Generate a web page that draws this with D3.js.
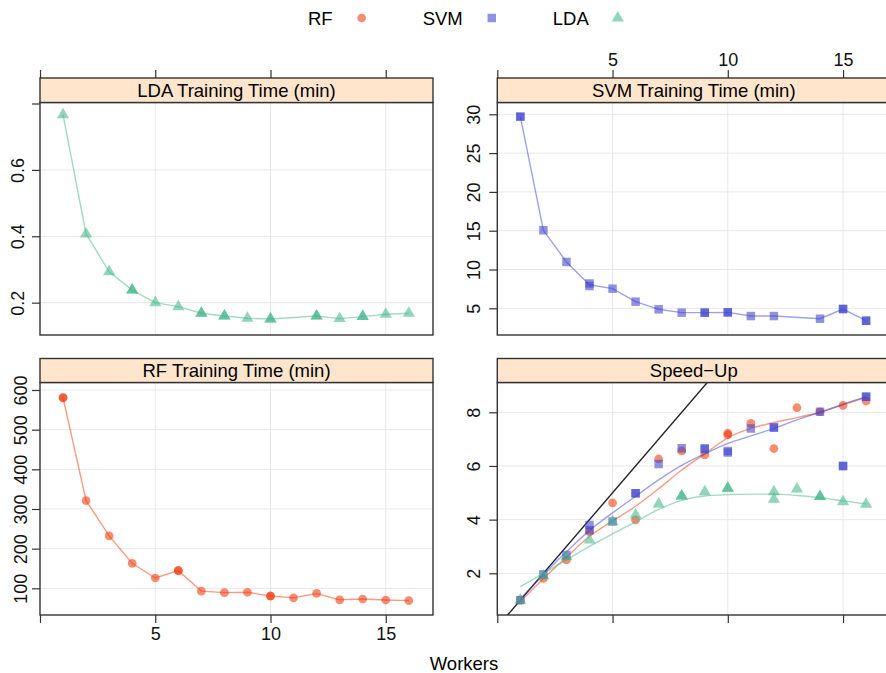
<!DOCTYPE html>
<html>
<head>
<meta charset="utf-8">
<script src="https://cdn.jsdelivr.net/npm/d3@7"></script>
<style>
  body { margin: 0; background: #fff; }
  svg { display: block; font-family: "Liberation Sans", Arial, sans-serif; }
</style>
</head>
<body>
<svg id="chart" width="886" height="673"></svg>
<script>
// ---- data (replicate runs repeat the worker count) ----
var seriesKeys = ["RF", "SVM", "LDA"];
var workerTicks = [0, 5, 10, 15];

var rfWorkers = [1, 1, 2, 3, 4, 5, 6, 6, 7, 8, 9, 10, 10, 11, 12, 13, 14, 15, 16];
var rfTime    = [580, 581, 321, 232, 163, 126, 144, 145, 93, 89, 90, 80, 81, 76, 87, 71, 73, 70.5, 69];

var svmWorkers = [1, 1, 2, 3, 4, 4, 5, 6, 7, 8, 9, 9, 10, 10, 11, 12, 14, 15, 15, 16, 16];
var svmTime    = [29.7, 29.7, 15.05, 10.97, 7.87, 8.2, 7.53, 5.85, 4.87, 4.44, 4.44, 4.44, 4.48, 4.48, 4.0, 4.0, 3.66, 4.91, 4.91, 3.4, 3.4];

var ldaWorkers = [1, 2, 3, 4, 4, 5, 6, 7, 7, 8, 8, 9, 10, 10, 12, 12, 13, 14, 14, 15, 16];
var ldaTime    = [0.766, 0.407, 0.293, 0.238, 0.238, 0.200, 0.188, 0.168, 0.168, 0.160, 0.160, 0.153, 0.151, 0.151, 0.160, 0.160, 0.152, 0.158, 0.158, 0.165, 0.168];

var rfSpeedWorkers = [1, 2, 3, 4, 5, 6, 7, 8, 9, 10, 10, 11, 12, 13, 14, 15, 16];
var rfSpeed        = [1.0, 1.81, 2.50, 3.55, 4.62, 3.99, 6.26, 6.56, 6.41, 7.22, 7.16, 7.59, 6.65, 8.17, 8.02, 8.26, 8.42];

var svmSpeedWorkers = [1, 2, 3, 4, 4, 5, 6, 6, 7, 8, 9, 9, 10, 10, 11, 12, 12, 14, 15, 15, 16, 16];
var svmSpeed        = [1.0, 1.96, 2.68, 3.80, 3.61, 3.93, 4.98, 4.98, 6.07, 6.66, 6.66, 6.62, 6.56, 6.50, 7.40, 7.43, 7.43, 8.02, 6.0, 6.0, 8.58, 8.58];

var ldaSpeedWorkers = [1, 2, 3, 4, 5, 6, 7, 8, 8, 9, 10, 10, 12, 12, 13, 14, 14, 15, 16];
var ldaSpeed        = [1.0, 1.9, 2.62, 3.24, 3.93, 4.17, 4.58, 4.88, 4.88, 5.04, 5.17, 5.17, 4.76, 5.04, 5.14, 4.86, 4.86, 4.67, 4.57];

// smoothed speed-up curves, read at workers 1..16
var fitWorkers = [1, 2, 3, 4, 5, 6, 7, 8, 9, 10, 11, 12, 13, 14, 15, 16];
var rfFit  = [0.95, 1.8, 2.6, 3.38, 3.95, 4.5, 5.15, 5.85, 6.45, 7.05, 7.4, 7.62, 7.8, 8.0, 8.28, 8.55];
var svmFit = [1.05, 1.95, 2.8, 3.6, 4.25, 4.87, 5.48, 6.02, 6.45, 6.84, 7.12, 7.4, 7.72, 8.0, 8.3, 8.58];
var ldaFit = [1.5, 2.0, 2.5, 3.0, 3.47, 3.92, 4.38, 4.72, 4.88, 4.93, 4.95, 4.95, 4.9, 4.82, 4.7, 4.58];

// ---- look ----
var colors = {RF: "#f03b0e", SVM: "#3f44cb", LDA: "#44b789"};
var symbols = {RF: d3.symbolCircle, SVM: d3.symbolSquare, LDA: d3.symbolTriangle};
var symbolSize = {RF: 60, SVM: 72, LDA: 64};
var alpha = 0.58, lineAlpha = 0.5;
var fontSize = 18;

var cols = [40, 497.3], panelWidth = 393;
var rows = [
  {stripTop: 78, top: 102.5, bottom: 335},
  {stripTop: 358.5, top: 382.5, bottom: 615}
];

var panels = [
  {title: "LDA Training Time (min)", col: 0, row: 0, yDomain: [0.1026, 0.803],
   yTicks: [0.2, 0.4, 0.6, 0.8], yLabels: [0.2, 0.4, 0.6], labelGap: 16,
   xAxis: "top", xLabels: false, kind: "time",
   series: [{key: "LDA", x: ldaWorkers, y: ldaTime}]},
  {title: "SVM Training Time (min)", col: 1, row: 0, yDomain: [1.56, 31.52],
   yTicks: [5, 10, 15, 20, 25, 30], yLabels: [5, 10, 15, 20, 25, 30], labelGap: 17,
   xAxis: "top", xLabels: true, kind: "time",
   series: [{key: "SVM", x: svmWorkers, y: svmTime}]},
  {title: "RF Training Time (min)", col: 0, row: 1, yDomain: [32.7, 618.9],
   yTicks: [100, 200, 300, 400, 500, 600], yLabels: [100, 200, 300, 400, 500, 600], labelGap: 13,
   xAxis: "bottom", xLabels: true, kind: "time",
   series: [{key: "RF", x: rfWorkers, y: rfTime}]},
  {title: "Speed\u2212Up", col: 1, row: 1, yDomain: [0.446, 9.11],
   yTicks: [2, 4, 6, 8], yLabels: [2, 4, 6, 8], labelGap: 17,
   xAxis: "bottom", xLabels: false, kind: "speed",
   series: [
     {key: "RF", x: rfSpeedWorkers, y: rfSpeed, fit: rfFit},
     {key: "SVM", x: svmSpeedWorkers, y: svmSpeed, fit: svmFit},
     {key: "LDA", x: ldaSpeedWorkers, y: ldaSpeed, fit: ldaFit}
   ]}
];

var svg = d3.select("#chart");

panels.forEach(function(p, pi) {
  var left = cols[p.col], right = left + panelWidth;
  var r = rows[p.row];
  var x = d3.scaleLinear().domain([0, 17.05]).range([left, right]);
  var y = d3.scaleLinear().domain(p.yDomain).range([r.bottom, r.top]);

  svg.append("clipPath").attr("id", "clip" + pi)
    .append("rect")
    .attr("x", left).attr("y", r.top)
    .attr("width", panelWidth).attr("height", r.bottom - r.top);

  // grid
  var grid = svg.append("g").attr("stroke", "#e8e8e8").attr("stroke-width", 1);
  grid.selectAll(".gx").data([5, 10, 15]).enter().append("line")
    .attr("x1", function(d) { return x(d); }).attr("x2", function(d) { return x(d); })
    .attr("y1", r.top).attr("y2", r.bottom);
  grid.selectAll(".gy").data(p.yTicks.filter(function(d) { return y(d) > r.top + 1; })).enter().append("line")
    .attr("x1", left).attr("x2", right)
    .attr("y1", function(d) { return y(d); }).attr("y2", function(d) { return y(d); });

  var body = svg.append("g").attr("clip-path", "url(#clip" + pi + ")");

  if (p.kind === "speed") {
    // ideal linear speed-up
    body.append("line")
      .attr("x1", x(0)).attr("y1", y(0))
      .attr("x2", x(17.05)).attr("y2", y(17.05))
      .attr("stroke", "#222").attr("stroke-width", 1.4);
  }

  p.series.forEach(function(s) {
    var pts = s.x.map(function(d, i) { return [d, s.y[i]]; });
    var linePts, curve;
    if (p.kind === "time") {
      // joined averages per worker count
      linePts = d3.rollups(pts, function(v) { return d3.mean(v, function(d) { return d[1]; }); }, function(d) { return d[0]; })
        .sort(function(a, b) { return a[0] - b[0]; });
      curve = d3.curveLinear;
    } else {
      linePts = fitWorkers.map(function(w, i) { return [w, s.fit[i]]; });
      curve = d3.curveMonotoneX;
    }
    var line = d3.line().curve(curve)
      .x(function(d) { return x(d[0]); }).y(function(d) { return y(d[1]); });

    body.selectAll(null).data(pts).enter().append("path")
      .attr("d", d3.symbol().type(symbols[s.key]).size(symbolSize[s.key]))
      .attr("transform", function(d) { return "translate(" + x(d[0]) + "," + y(d[1]) + ")"; })
      .attr("fill", colors[s.key]).attr("fill-opacity", alpha);

    body.append("path").datum(linePts)
      .attr("d", line)
      .attr("fill", "none")
      .attr("stroke", colors[s.key]).attr("stroke-opacity", lineAlpha)
      .attr("stroke-width", 1.4);
  });

  // panel border
  svg.append("rect")
    .attr("x", left).attr("y", r.top)
    .attr("width", panelWidth).attr("height", r.bottom - r.top)
    .attr("fill", "none").attr("stroke", "#333").attr("stroke-width", 1.4);

  // strip
  svg.append("rect")
    .attr("x", left).attr("y", r.stripTop)
    .attr("width", panelWidth).attr("height", r.top - r.stripTop)
    .attr("fill", "#ffe5cc").attr("stroke", "#333").attr("stroke-width", 1.4);
  svg.append("text")
    .attr("x", (left + right) / 2).attr("y", (r.stripTop + r.top) / 2 + 6.5)
    .attr("text-anchor", "middle")
    .attr("font-size", fontSize + 0.5)
    .text(p.title);

  // x axis
  var xAxis = (p.xAxis === "top" ? d3.axisTop(x) : d3.axisBottom(x))
    .tickValues(workerTicks).tickSize(8).tickPadding(4)
    .tickFormat(function(d) { return p.xLabels && d > 0 ? d : ""; });
  var gx = svg.append("g")
    .attr("transform", "translate(0," + (p.xAxis === "top" ? r.stripTop : r.bottom) + ")")
    .call(xAxis);
  styleAxis(gx);

  // y axis with rotated labels
  var yAxis = d3.axisLeft(y).tickValues(p.yTicks).tickSize(8)
    .tickFormat(function(d) { return p.yLabels.indexOf(d) >= 0 ? d : ""; });
  var gy = svg.append("g").attr("transform", "translate(" + left + ",0)").call(yAxis);
  styleAxis(gy);
  gy.selectAll(".tick text")
    .attr("x", 0).attr("y", -p.labelGap).attr("dy", 0)
    .attr("text-anchor", "middle")
    .attr("transform", "rotate(-90)");
});

function styleAxis(g) {
  g.attr("font-family", null).attr("font-size", fontSize);
  g.select(".domain").remove();
  g.selectAll(".tick line").attr("stroke", "#333").attr("stroke-width", 1.2);
  g.selectAll(".tick text").attr("fill", "#111");
}

// legend on top
var legend = svg.append("g").attr("font-size", fontSize + 0.5);
var lx = 308;
seriesKeys.forEach(function(k) {
  var t = legend.append("text").attr("x", lx).attr("y", 24.5).text(k);
  var w = t.node().getComputedTextLength();
  legend.append("path")
    .attr("d", d3.symbol().type(symbols[k]).size(symbolSize[k]))
    .attr("transform", "translate(" + (lx + w + 29) + ",18)")
    .attr("fill", colors[k]).attr("fill-opacity", alpha);
  lx += w + 90;
});

svg.append("text")
  .attr("x", 464).attr("y", 670)
  .attr("text-anchor", "middle")
  .attr("font-size", fontSize + 0.5)
  .text("Workers");
</script>
</body>
</html>
